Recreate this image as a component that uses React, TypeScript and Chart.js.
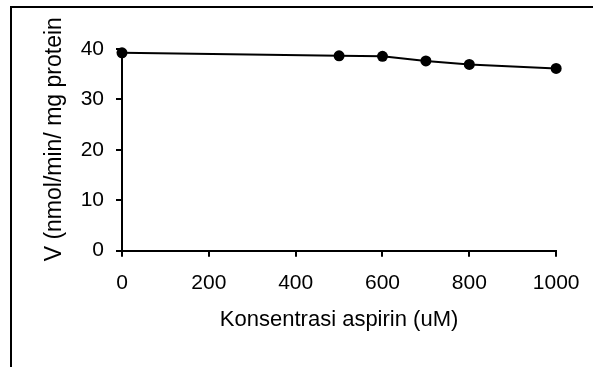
import React, { useEffect, useRef } from "react";
import { Chart, registerables } from "chart.js";

Chart.register(...registerables);

const concentrations = [0, 500, 600, 700, 800, 1000];
const activity = [39.2, 38.6, 38.5, 37.6, 36.9, 36.1];
const xTitle = "Konsentrasi aspirin (uM)";
const yTitle = "V (nmol/min/ mg protein";

const FONT = "'Liberation Sans', Arial, sans-serif";

const yTitlePlugin = {
  id: "yTitlePlugin",
  afterDraw(chart: any) {
    const { ctx, chartArea } = chart;
    const cy = (chartArea.top + chartArea.bottom) / 2 - 10.5;
    ctx.save();
    ctx.translate(55, cy);
    ctx.rotate(-Math.PI / 2);
    ctx.fillStyle = "#000";
    ctx.font = `23px ${FONT}`;
    ctx.textAlign = "center";
    ctx.textBaseline = "middle";
    ctx.fillText(yTitle, 0, 0);
    ctx.restore();
  },
};

export default function App() {
  const ref = useRef<HTMLCanvasElement | null>(null);

  useEffect(() => {
    if (!ref.current) return;
    const chart = new Chart(ref.current, {
      type: "line",
      data: {
        datasets: [
          {
            data: concentrations.map((c, i) => ({ x: c, y: activity[i] })),
            borderColor: "#000",
            backgroundColor: "#000",
            borderWidth: 2,
            pointRadius: 5.5,
            pointHoverRadius: 5.5,
            pointBackgroundColor: "#000",
            pointBorderWidth: 0,
            tension: 0,
            clip: false as any,
          },
        ],
      },
      options: {
        animation: false,
        responsive: false,
        events: [],
        layout: { padding: { left: 0, right: 34.7, top: 48.8, bottom: 0 } },
        plugins: { legend: { display: false }, tooltip: { enabled: false } },
        scales: {
          x: {
            type: "linear",
            min: 0,
            max: 1000,
            afterFit: (s: any) => {
              s.height = 116.3;
            },
            ticks: {
              stepSize: 200,
              color: "#000",
              padding: 13.5,
              maxRotation: 0,
              font: { family: FONT, size: 21 },
              callback: (v: any) => String(v),
            },
            grid: {
              drawOnChartArea: false,
              drawTicks: true,
              tickLength: 6,
              color: "#000",
              lineWidth: 2,
            },
            border: { display: true, color: "#000", width: 2 },
            title: {
              display: true,
              text: xTitle,
              color: "#000",
              font: { family: FONT, size: 22 },
              padding: { top: 0, bottom: 33.8 },
            },
          },
          y: {
            min: 0,
            max: 40,
            afterFit: (s: any) => {
              s.width = 122;
            },
            ticks: {
              stepSize: 10,
              color: "#000",
              padding: 12,
              font: { family: FONT, size: 21 },
              callback: (v: any) => String(v),
            },
            grid: {
              drawOnChartArea: false,
              drawTicks: true,
              tickLength: 6,
              color: "#000",
              lineWidth: 2,
            },
            border: { display: true, color: "#000", width: 2 },
            title: { display: false },
          },
        },
      },
      plugins: [yTitlePlugin],
    });
    return () => chart.destroy();
  }, []);

  return (
    <div
      style={{
        position: "fixed",
        left: 0,
        top: 0,
        width: 593,
        height: 367,
        overflow: "hidden",
        background: "#fff",
      }}
    >
      <div
        style={{
          position: "absolute",
          left: 10,
          top: 6,
          width: 700,
          height: 500,
          border: "2px solid #000",
        }}
      />
      <canvas
        ref={ref}
        width={593}
        height={367}
        style={{ position: "absolute", left: 0, top: 0, width: 593, height: 367 }}
      />
    </div>
  );
}
